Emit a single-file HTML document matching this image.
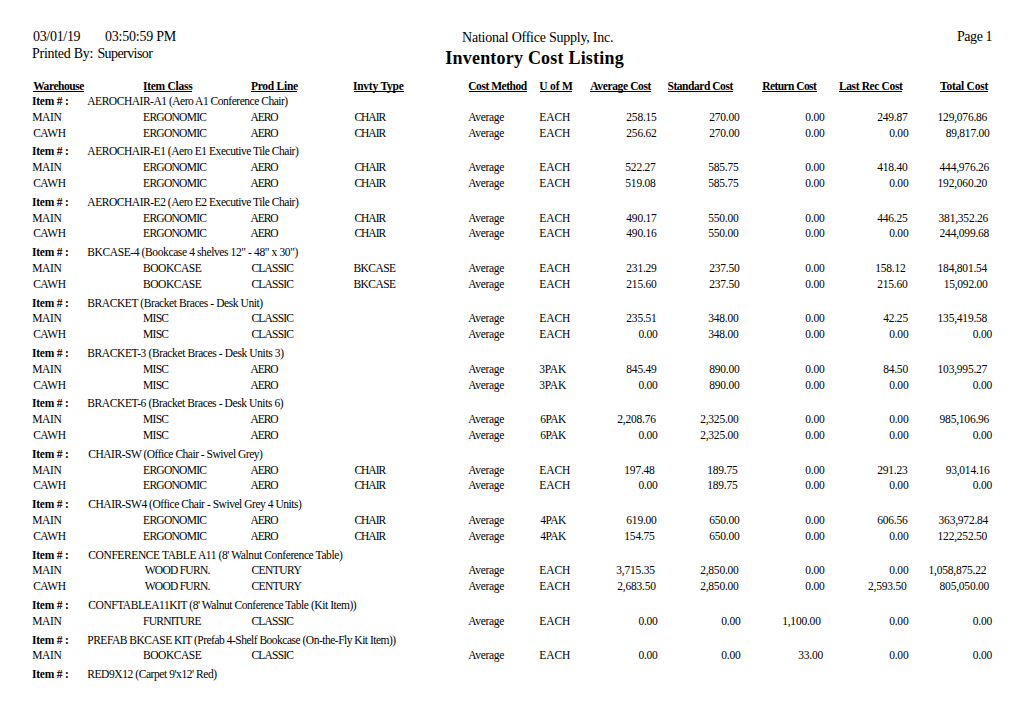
<!DOCTYPE html>
<html><head><meta charset="utf-8"><style>
html,body{margin:0;padding:0;background:#fff;}
body{width:1029px;height:704px;position:relative;overflow:hidden;font-family:"Liberation Serif",serif;color:#000;}
div{position:absolute;white-space:pre;}
.d{font-size:11.5px;line-height:11.5px;letter-spacing:-0.45px;}
.b{font-weight:bold;}
.l{height:1px;background:#000;}
</style></head><body>
<div style="left:33.00px;top:30px;font-size:14.0px;line-height:14.0px;font-weight:normal;letter-spacing:-0.314px;">03/01/19</div>
<div style="left:105.00px;top:30px;font-size:14.0px;line-height:14.0px;font-weight:normal;letter-spacing:-0.23px;">03:50:59 PM</div>
<div style="left:32.00px;top:47px;font-size:14.0px;line-height:14.0px;font-weight:normal;letter-spacing:-0.28px;">Printed By:</div>
<div style="left:97.40px;top:47px;font-size:14.0px;line-height:14.0px;font-weight:normal;letter-spacing:-0.578px;">Supervisor</div>
<div style="left:462.10px;top:31px;font-size:14.0px;line-height:14.0px;font-weight:normal;letter-spacing:-0.241px;">National Office Supply, Inc.</div>
<div style="left:445.30px;top:49px;font-size:18.0px;line-height:18.0px;font-weight:bold;letter-spacing:0.21px;">Inventory Cost Listing</div>
<div style="left:957.00px;top:30px;font-size:14.0px;line-height:14.0px;font-weight:normal;letter-spacing:-0.44px;">Page 1</div>
<div style="left:33.20px;top:81px;font-size:11.5px;line-height:11.5px;font-weight:bold;letter-spacing:-0.438px;">Warehouse</div>
<div class="l" style="left:32.90px;top:91px;width:51.30px"></div>
<div style="left:143.00px;top:81px;font-size:11.5px;line-height:11.5px;font-weight:bold;letter-spacing:-0.272px;">Item Class</div>
<div class="l" style="left:143.70px;top:91px;width:48.70px"></div>
<div style="left:251.00px;top:81px;font-size:11.5px;line-height:11.5px;font-weight:bold;letter-spacing:-0.275px;">Prod Line</div>
<div class="l" style="left:250.70px;top:91px;width:46.60px"></div>
<div style="left:352.90px;top:81px;font-size:11.5px;line-height:11.5px;font-weight:bold;letter-spacing:-0.228px;">Invty Type</div>
<div class="l" style="left:353.60px;top:91px;width:50.10px"></div>
<div style="left:468.30px;top:81px;font-size:11.5px;line-height:11.5px;font-weight:bold;letter-spacing:-0.48px;">Cost Method</div>
<div class="l" style="left:469.00px;top:91px;width:57.70px"></div>
<div style="left:539.20px;top:81px;font-size:11.5px;line-height:11.5px;font-weight:bold;letter-spacing:-0.15px;">U of M</div>
<div class="l" style="left:539.90px;top:91px;width:32.00px"></div>
<div style="left:590.30px;top:81px;font-size:11.5px;line-height:11.5px;font-weight:bold;letter-spacing:-0.377px;">Average Cost</div>
<div class="l" style="left:590.00px;top:91px;width:60.70px"></div>
<div style="left:667.50px;top:81px;font-size:11.5px;line-height:11.5px;font-weight:bold;letter-spacing:-0.458px;">Standard Cost</div>
<div class="l" style="left:668.20px;top:91px;width:64.70px"></div>
<div style="left:762.30px;top:81px;font-size:11.5px;line-height:11.5px;font-weight:bold;letter-spacing:-0.59px;">Return Cost</div>
<div class="l" style="left:762.00px;top:91px;width:54.60px"></div>
<div style="left:838.90px;top:81px;font-size:11.5px;line-height:11.5px;font-weight:bold;letter-spacing:-0.367px;">Last Rec Cost</div>
<div class="l" style="left:838.60px;top:91px;width:63.80px"></div>
<div style="left:940.00px;top:81px;font-size:11.5px;line-height:11.5px;font-weight:bold;letter-spacing:-0.239px;">Total Cost</div>
<div class="l" style="left:939.70px;top:91px;width:48.00px"></div>
<div style="left:31.90px;top:96px;font-size:11.5px;line-height:11.5px;font-weight:bold;letter-spacing:-0.207px;">Item # :</div>
<div style="left:87.30px;top:96px;font-size:11.5px;line-height:11.5px;font-weight:normal;letter-spacing:-0.479px;">AEROCHAIR-A1 (Aero A1 Conference Chair)</div>
<div style="left:32.20px;top:112px;font-size:11.5px;line-height:11.5px;font-weight:normal;letter-spacing:-0.35px;">MAIN</div>
<div style="left:143.10px;top:112px;font-size:11.5px;line-height:11.5px;font-weight:normal;letter-spacing:-0.725px;">ERGONOMIC</div>
<div style="left:250.50px;top:112px;font-size:11.5px;line-height:11.5px;font-weight:normal;letter-spacing:-1.05px;">AERO</div>
<div style="left:354.40px;top:112px;font-size:11.5px;line-height:11.5px;font-weight:normal;letter-spacing:-1.0px;">CHAIR</div>
<div style="left:468.20px;top:112px;font-size:11.5px;line-height:11.5px;font-weight:normal;letter-spacing:-0.317px;">Average</div>
<div style="left:539.20px;top:112px;font-size:11.5px;line-height:11.5px;font-weight:normal;letter-spacing:-0.05px;">EACH</div>
<div style="left:626.35px;top:112px;font-size:11.5px;line-height:11.5px;font-weight:normal;letter-spacing:-0.22px;">258.15</div>
<div style="left:709.20px;top:112px;font-size:11.5px;line-height:11.5px;font-weight:normal;letter-spacing:-0.22px;">270.00</div>
<div style="left:805.30px;top:112px;font-size:11.5px;line-height:11.5px;font-weight:normal;letter-spacing:-0.22px;">0.00</div>
<div style="left:877.15px;top:112px;font-size:11.5px;line-height:11.5px;font-weight:normal;letter-spacing:-0.22px;">249.87</div>
<div style="left:937.60px;top:112px;font-size:11.5px;line-height:11.5px;font-weight:normal;letter-spacing:-0.22px;">129,076.86</div>
<div style="left:33.20px;top:128px;font-size:11.5px;line-height:11.5px;font-weight:normal;letter-spacing:-0.483px;">CAWH</div>
<div style="left:143.10px;top:128px;font-size:11.5px;line-height:11.5px;font-weight:normal;letter-spacing:-0.725px;">ERGONOMIC</div>
<div style="left:250.50px;top:128px;font-size:11.5px;line-height:11.5px;font-weight:normal;letter-spacing:-1.05px;">AERO</div>
<div style="left:354.40px;top:128px;font-size:11.5px;line-height:11.5px;font-weight:normal;letter-spacing:-1.0px;">CHAIR</div>
<div style="left:468.20px;top:128px;font-size:11.5px;line-height:11.5px;font-weight:normal;letter-spacing:-0.317px;">Average</div>
<div style="left:539.20px;top:128px;font-size:11.5px;line-height:11.5px;font-weight:normal;letter-spacing:-0.05px;">EACH</div>
<div style="left:626.35px;top:128px;font-size:11.5px;line-height:11.5px;font-weight:normal;letter-spacing:-0.22px;">256.62</div>
<div style="left:709.20px;top:128px;font-size:11.5px;line-height:11.5px;font-weight:normal;letter-spacing:-0.22px;">270.00</div>
<div style="left:805.30px;top:128px;font-size:11.5px;line-height:11.5px;font-weight:normal;letter-spacing:-0.22px;">0.00</div>
<div style="left:889.20px;top:128px;font-size:11.5px;line-height:11.5px;font-weight:normal;letter-spacing:-0.22px;">0.00</div>
<div style="left:945.63px;top:128px;font-size:11.5px;line-height:11.5px;font-weight:normal;letter-spacing:-0.22px;">89,817.00</div>
<div style="left:31.90px;top:146px;font-size:11.5px;line-height:11.5px;font-weight:bold;letter-spacing:-0.207px;">Item # :</div>
<div style="left:87.30px;top:146px;font-size:11.5px;line-height:11.5px;font-weight:normal;letter-spacing:-0.462px;">AEROCHAIR-E1 (Aero E1 Executive Tile Chair)</div>
<div style="left:32.20px;top:162px;font-size:11.5px;line-height:11.5px;font-weight:normal;letter-spacing:-0.35px;">MAIN</div>
<div style="left:143.10px;top:162px;font-size:11.5px;line-height:11.5px;font-weight:normal;letter-spacing:-0.725px;">ERGONOMIC</div>
<div style="left:250.50px;top:162px;font-size:11.5px;line-height:11.5px;font-weight:normal;letter-spacing:-1.05px;">AERO</div>
<div style="left:354.40px;top:162px;font-size:11.5px;line-height:11.5px;font-weight:normal;letter-spacing:-1.0px;">CHAIR</div>
<div style="left:468.20px;top:162px;font-size:11.5px;line-height:11.5px;font-weight:normal;letter-spacing:-0.317px;">Average</div>
<div style="left:539.20px;top:162px;font-size:11.5px;line-height:11.5px;font-weight:normal;letter-spacing:-0.05px;">EACH</div>
<div style="left:625.35px;top:162px;font-size:11.5px;line-height:11.5px;font-weight:normal;letter-spacing:-0.22px;">522.27</div>
<div style="left:708.20px;top:162px;font-size:11.5px;line-height:11.5px;font-weight:normal;letter-spacing:-0.22px;">585.75</div>
<div style="left:805.30px;top:162px;font-size:11.5px;line-height:11.5px;font-weight:normal;letter-spacing:-0.22px;">0.00</div>
<div style="left:877.15px;top:162px;font-size:11.5px;line-height:11.5px;font-weight:normal;letter-spacing:-0.22px;">418.40</div>
<div style="left:939.60px;top:162px;font-size:11.5px;line-height:11.5px;font-weight:normal;letter-spacing:-0.22px;">444,976.26</div>
<div style="left:33.20px;top:178px;font-size:11.5px;line-height:11.5px;font-weight:normal;letter-spacing:-0.483px;">CAWH</div>
<div style="left:143.10px;top:178px;font-size:11.5px;line-height:11.5px;font-weight:normal;letter-spacing:-0.725px;">ERGONOMIC</div>
<div style="left:250.50px;top:178px;font-size:11.5px;line-height:11.5px;font-weight:normal;letter-spacing:-1.05px;">AERO</div>
<div style="left:354.40px;top:178px;font-size:11.5px;line-height:11.5px;font-weight:normal;letter-spacing:-1.0px;">CHAIR</div>
<div style="left:468.20px;top:178px;font-size:11.5px;line-height:11.5px;font-weight:normal;letter-spacing:-0.317px;">Average</div>
<div style="left:539.20px;top:178px;font-size:11.5px;line-height:11.5px;font-weight:normal;letter-spacing:-0.05px;">EACH</div>
<div style="left:625.35px;top:178px;font-size:11.5px;line-height:11.5px;font-weight:normal;letter-spacing:-0.22px;">519.08</div>
<div style="left:708.20px;top:178px;font-size:11.5px;line-height:11.5px;font-weight:normal;letter-spacing:-0.22px;">585.75</div>
<div style="left:805.30px;top:178px;font-size:11.5px;line-height:11.5px;font-weight:normal;letter-spacing:-0.22px;">0.00</div>
<div style="left:889.20px;top:178px;font-size:11.5px;line-height:11.5px;font-weight:normal;letter-spacing:-0.22px;">0.00</div>
<div style="left:937.60px;top:178px;font-size:11.5px;line-height:11.5px;font-weight:normal;letter-spacing:-0.22px;">192,060.20</div>
<div style="left:31.90px;top:197px;font-size:11.5px;line-height:11.5px;font-weight:bold;letter-spacing:-0.207px;">Item # :</div>
<div style="left:87.30px;top:197px;font-size:11.5px;line-height:11.5px;font-weight:normal;letter-spacing:-0.462px;">AEROCHAIR-E2 (Aero E2 Executive Tile Chair)</div>
<div style="left:32.20px;top:213px;font-size:11.5px;line-height:11.5px;font-weight:normal;letter-spacing:-0.35px;">MAIN</div>
<div style="left:143.10px;top:213px;font-size:11.5px;line-height:11.5px;font-weight:normal;letter-spacing:-0.725px;">ERGONOMIC</div>
<div style="left:250.50px;top:213px;font-size:11.5px;line-height:11.5px;font-weight:normal;letter-spacing:-1.05px;">AERO</div>
<div style="left:354.40px;top:213px;font-size:11.5px;line-height:11.5px;font-weight:normal;letter-spacing:-1.0px;">CHAIR</div>
<div style="left:468.20px;top:213px;font-size:11.5px;line-height:11.5px;font-weight:normal;letter-spacing:-0.317px;">Average</div>
<div style="left:539.20px;top:213px;font-size:11.5px;line-height:11.5px;font-weight:normal;letter-spacing:-0.05px;">EACH</div>
<div style="left:626.35px;top:213px;font-size:11.5px;line-height:11.5px;font-weight:normal;letter-spacing:-0.22px;">490.17</div>
<div style="left:708.20px;top:213px;font-size:11.5px;line-height:11.5px;font-weight:normal;letter-spacing:-0.22px;">550.00</div>
<div style="left:805.30px;top:213px;font-size:11.5px;line-height:11.5px;font-weight:normal;letter-spacing:-0.22px;">0.00</div>
<div style="left:877.15px;top:213px;font-size:11.5px;line-height:11.5px;font-weight:normal;letter-spacing:-0.22px;">446.25</div>
<div style="left:938.60px;top:213px;font-size:11.5px;line-height:11.5px;font-weight:normal;letter-spacing:-0.22px;">381,352.26</div>
<div style="left:33.20px;top:228px;font-size:11.5px;line-height:11.5px;font-weight:normal;letter-spacing:-0.483px;">CAWH</div>
<div style="left:143.10px;top:228px;font-size:11.5px;line-height:11.5px;font-weight:normal;letter-spacing:-0.725px;">ERGONOMIC</div>
<div style="left:250.50px;top:228px;font-size:11.5px;line-height:11.5px;font-weight:normal;letter-spacing:-1.05px;">AERO</div>
<div style="left:354.40px;top:228px;font-size:11.5px;line-height:11.5px;font-weight:normal;letter-spacing:-1.0px;">CHAIR</div>
<div style="left:468.20px;top:228px;font-size:11.5px;line-height:11.5px;font-weight:normal;letter-spacing:-0.317px;">Average</div>
<div style="left:539.20px;top:228px;font-size:11.5px;line-height:11.5px;font-weight:normal;letter-spacing:-0.05px;">EACH</div>
<div style="left:626.35px;top:228px;font-size:11.5px;line-height:11.5px;font-weight:normal;letter-spacing:-0.22px;">490.16</div>
<div style="left:708.20px;top:228px;font-size:11.5px;line-height:11.5px;font-weight:normal;letter-spacing:-0.22px;">550.00</div>
<div style="left:805.30px;top:228px;font-size:11.5px;line-height:11.5px;font-weight:normal;letter-spacing:-0.22px;">0.00</div>
<div style="left:889.20px;top:228px;font-size:11.5px;line-height:11.5px;font-weight:normal;letter-spacing:-0.22px;">0.00</div>
<div style="left:939.60px;top:228px;font-size:11.5px;line-height:11.5px;font-weight:normal;letter-spacing:-0.22px;">244,099.68</div>
<div style="left:31.90px;top:247px;font-size:11.5px;line-height:11.5px;font-weight:bold;letter-spacing:-0.207px;">Item # :</div>
<div style="left:87.30px;top:247px;font-size:11.5px;line-height:11.5px;font-weight:normal;letter-spacing:-0.389px;">BKCASE-4 (Bookcase 4 shelves 12&quot; - 48&quot; x 30&quot;)</div>
<div style="left:32.20px;top:263px;font-size:11.5px;line-height:11.5px;font-weight:normal;letter-spacing:-0.35px;">MAIN</div>
<div style="left:143.10px;top:263px;font-size:11.5px;line-height:11.5px;font-weight:normal;letter-spacing:-0.479px;">BOOKCASE</div>
<div style="left:251.50px;top:263px;font-size:11.5px;line-height:11.5px;font-weight:normal;letter-spacing:-0.817px;">CLASSIC</div>
<div style="left:353.40px;top:263px;font-size:11.5px;line-height:11.5px;font-weight:normal;letter-spacing:-0.55px;">BKCASE</div>
<div style="left:468.20px;top:263px;font-size:11.5px;line-height:11.5px;font-weight:normal;letter-spacing:-0.317px;">Average</div>
<div style="left:539.20px;top:263px;font-size:11.5px;line-height:11.5px;font-weight:normal;letter-spacing:-0.05px;">EACH</div>
<div style="left:626.35px;top:263px;font-size:11.5px;line-height:11.5px;font-weight:normal;letter-spacing:-0.22px;">231.29</div>
<div style="left:709.20px;top:263px;font-size:11.5px;line-height:11.5px;font-weight:normal;letter-spacing:-0.22px;">237.50</div>
<div style="left:805.30px;top:263px;font-size:11.5px;line-height:11.5px;font-weight:normal;letter-spacing:-0.22px;">0.00</div>
<div style="left:875.15px;top:263px;font-size:11.5px;line-height:11.5px;font-weight:normal;letter-spacing:-0.22px;">158.12</div>
<div style="left:937.60px;top:263px;font-size:11.5px;line-height:11.5px;font-weight:normal;letter-spacing:-0.22px;">184,801.54</div>
<div style="left:33.20px;top:279px;font-size:11.5px;line-height:11.5px;font-weight:normal;letter-spacing:-0.483px;">CAWH</div>
<div style="left:143.10px;top:279px;font-size:11.5px;line-height:11.5px;font-weight:normal;letter-spacing:-0.479px;">BOOKCASE</div>
<div style="left:251.50px;top:279px;font-size:11.5px;line-height:11.5px;font-weight:normal;letter-spacing:-0.817px;">CLASSIC</div>
<div style="left:353.40px;top:279px;font-size:11.5px;line-height:11.5px;font-weight:normal;letter-spacing:-0.55px;">BKCASE</div>
<div style="left:468.20px;top:279px;font-size:11.5px;line-height:11.5px;font-weight:normal;letter-spacing:-0.317px;">Average</div>
<div style="left:539.20px;top:279px;font-size:11.5px;line-height:11.5px;font-weight:normal;letter-spacing:-0.05px;">EACH</div>
<div style="left:626.35px;top:279px;font-size:11.5px;line-height:11.5px;font-weight:normal;letter-spacing:-0.22px;">215.60</div>
<div style="left:709.20px;top:279px;font-size:11.5px;line-height:11.5px;font-weight:normal;letter-spacing:-0.22px;">237.50</div>
<div style="left:805.30px;top:279px;font-size:11.5px;line-height:11.5px;font-weight:normal;letter-spacing:-0.22px;">0.00</div>
<div style="left:877.15px;top:279px;font-size:11.5px;line-height:11.5px;font-weight:normal;letter-spacing:-0.22px;">215.60</div>
<div style="left:943.63px;top:279px;font-size:11.5px;line-height:11.5px;font-weight:normal;letter-spacing:-0.22px;">15,092.00</div>
<div style="left:31.90px;top:298px;font-size:11.5px;line-height:11.5px;font-weight:bold;letter-spacing:-0.207px;">Item # :</div>
<div style="left:87.30px;top:298px;font-size:11.5px;line-height:11.5px;font-weight:normal;letter-spacing:-0.416px;">BRACKET (Bracket Braces - Desk Unit)</div>
<div style="left:32.20px;top:313px;font-size:11.5px;line-height:11.5px;font-weight:normal;letter-spacing:-0.35px;">MAIN</div>
<div style="left:143.10px;top:313px;font-size:11.5px;line-height:11.5px;font-weight:normal;letter-spacing:-0.75px;">MISC</div>
<div style="left:251.50px;top:313px;font-size:11.5px;line-height:11.5px;font-weight:normal;letter-spacing:-0.817px;">CLASSIC</div>
<div style="left:468.20px;top:313px;font-size:11.5px;line-height:11.5px;font-weight:normal;letter-spacing:-0.317px;">Average</div>
<div style="left:539.20px;top:313px;font-size:11.5px;line-height:11.5px;font-weight:normal;letter-spacing:-0.05px;">EACH</div>
<div style="left:626.35px;top:313px;font-size:11.5px;line-height:11.5px;font-weight:normal;letter-spacing:-0.22px;">235.51</div>
<div style="left:708.20px;top:313px;font-size:11.5px;line-height:11.5px;font-weight:normal;letter-spacing:-0.22px;">348.00</div>
<div style="left:805.30px;top:313px;font-size:11.5px;line-height:11.5px;font-weight:normal;letter-spacing:-0.22px;">0.00</div>
<div style="left:883.17px;top:313px;font-size:11.5px;line-height:11.5px;font-weight:normal;letter-spacing:-0.22px;">42.25</div>
<div style="left:937.60px;top:313px;font-size:11.5px;line-height:11.5px;font-weight:normal;letter-spacing:-0.22px;">135,419.58</div>
<div style="left:33.20px;top:329px;font-size:11.5px;line-height:11.5px;font-weight:normal;letter-spacing:-0.483px;">CAWH</div>
<div style="left:143.10px;top:329px;font-size:11.5px;line-height:11.5px;font-weight:normal;letter-spacing:-0.75px;">MISC</div>
<div style="left:251.50px;top:329px;font-size:11.5px;line-height:11.5px;font-weight:normal;letter-spacing:-0.817px;">CLASSIC</div>
<div style="left:468.20px;top:329px;font-size:11.5px;line-height:11.5px;font-weight:normal;letter-spacing:-0.317px;">Average</div>
<div style="left:539.20px;top:329px;font-size:11.5px;line-height:11.5px;font-weight:normal;letter-spacing:-0.05px;">EACH</div>
<div style="left:638.40px;top:329px;font-size:11.5px;line-height:11.5px;font-weight:normal;letter-spacing:-0.22px;">0.00</div>
<div style="left:708.20px;top:329px;font-size:11.5px;line-height:11.5px;font-weight:normal;letter-spacing:-0.22px;">348.00</div>
<div style="left:805.30px;top:329px;font-size:11.5px;line-height:11.5px;font-weight:normal;letter-spacing:-0.22px;">0.00</div>
<div style="left:889.20px;top:329px;font-size:11.5px;line-height:11.5px;font-weight:normal;letter-spacing:-0.22px;">0.00</div>
<div style="left:972.75px;top:329px;font-size:11.5px;line-height:11.5px;font-weight:normal;letter-spacing:-0.22px;">0.00</div>
<div style="left:31.90px;top:348px;font-size:11.5px;line-height:11.5px;font-weight:bold;letter-spacing:-0.207px;">Item # :</div>
<div style="left:87.30px;top:348px;font-size:11.5px;line-height:11.5px;font-weight:normal;letter-spacing:-0.39px;">BRACKET-3 (Bracket Braces - Desk Units 3)</div>
<div style="left:32.20px;top:364px;font-size:11.5px;line-height:11.5px;font-weight:normal;letter-spacing:-0.35px;">MAIN</div>
<div style="left:143.10px;top:364px;font-size:11.5px;line-height:11.5px;font-weight:normal;letter-spacing:-0.75px;">MISC</div>
<div style="left:250.50px;top:364px;font-size:11.5px;line-height:11.5px;font-weight:normal;letter-spacing:-1.05px;">AERO</div>
<div style="left:468.20px;top:364px;font-size:11.5px;line-height:11.5px;font-weight:normal;letter-spacing:-0.317px;">Average</div>
<div style="left:539.20px;top:364px;font-size:11.5px;line-height:11.5px;font-weight:normal;letter-spacing:-0.217px;">3PAK</div>
<div style="left:626.35px;top:364px;font-size:11.5px;line-height:11.5px;font-weight:normal;letter-spacing:-0.22px;">845.49</div>
<div style="left:709.20px;top:364px;font-size:11.5px;line-height:11.5px;font-weight:normal;letter-spacing:-0.22px;">890.00</div>
<div style="left:805.30px;top:364px;font-size:11.5px;line-height:11.5px;font-weight:normal;letter-spacing:-0.22px;">0.00</div>
<div style="left:883.17px;top:364px;font-size:11.5px;line-height:11.5px;font-weight:normal;letter-spacing:-0.22px;">84.50</div>
<div style="left:937.60px;top:364px;font-size:11.5px;line-height:11.5px;font-weight:normal;letter-spacing:-0.22px;">103,995.27</div>
<div style="left:33.20px;top:380px;font-size:11.5px;line-height:11.5px;font-weight:normal;letter-spacing:-0.483px;">CAWH</div>
<div style="left:143.10px;top:380px;font-size:11.5px;line-height:11.5px;font-weight:normal;letter-spacing:-0.75px;">MISC</div>
<div style="left:250.50px;top:380px;font-size:11.5px;line-height:11.5px;font-weight:normal;letter-spacing:-1.05px;">AERO</div>
<div style="left:468.20px;top:380px;font-size:11.5px;line-height:11.5px;font-weight:normal;letter-spacing:-0.317px;">Average</div>
<div style="left:539.20px;top:380px;font-size:11.5px;line-height:11.5px;font-weight:normal;letter-spacing:-0.217px;">3PAK</div>
<div style="left:638.40px;top:380px;font-size:11.5px;line-height:11.5px;font-weight:normal;letter-spacing:-0.22px;">0.00</div>
<div style="left:709.20px;top:380px;font-size:11.5px;line-height:11.5px;font-weight:normal;letter-spacing:-0.22px;">890.00</div>
<div style="left:805.30px;top:380px;font-size:11.5px;line-height:11.5px;font-weight:normal;letter-spacing:-0.22px;">0.00</div>
<div style="left:889.20px;top:380px;font-size:11.5px;line-height:11.5px;font-weight:normal;letter-spacing:-0.22px;">0.00</div>
<div style="left:972.75px;top:380px;font-size:11.5px;line-height:11.5px;font-weight:normal;letter-spacing:-0.22px;">0.00</div>
<div style="left:31.90px;top:398px;font-size:11.5px;line-height:11.5px;font-weight:bold;letter-spacing:-0.207px;">Item # :</div>
<div style="left:87.30px;top:398px;font-size:11.5px;line-height:11.5px;font-weight:normal;letter-spacing:-0.398px;">BRACKET-6 (Bracket Braces - Desk Units 6)</div>
<div style="left:32.20px;top:414px;font-size:11.5px;line-height:11.5px;font-weight:normal;letter-spacing:-0.35px;">MAIN</div>
<div style="left:143.10px;top:414px;font-size:11.5px;line-height:11.5px;font-weight:normal;letter-spacing:-0.75px;">MISC</div>
<div style="left:250.50px;top:414px;font-size:11.5px;line-height:11.5px;font-weight:normal;letter-spacing:-1.05px;">AERO</div>
<div style="left:468.20px;top:414px;font-size:11.5px;line-height:11.5px;font-weight:normal;letter-spacing:-0.317px;">Average</div>
<div style="left:540.20px;top:414px;font-size:11.5px;line-height:11.5px;font-weight:normal;letter-spacing:-0.55px;">6PAK</div>
<div style="left:617.30px;top:414px;font-size:11.5px;line-height:11.5px;font-weight:normal;letter-spacing:-0.22px;">2,208.76</div>
<div style="left:700.15px;top:414px;font-size:11.5px;line-height:11.5px;font-weight:normal;letter-spacing:-0.22px;">2,325.00</div>
<div style="left:805.30px;top:414px;font-size:11.5px;line-height:11.5px;font-weight:normal;letter-spacing:-0.22px;">0.00</div>
<div style="left:889.20px;top:414px;font-size:11.5px;line-height:11.5px;font-weight:normal;letter-spacing:-0.22px;">0.00</div>
<div style="left:939.60px;top:414px;font-size:11.5px;line-height:11.5px;font-weight:normal;letter-spacing:-0.22px;">985,106.96</div>
<div style="left:33.20px;top:430px;font-size:11.5px;line-height:11.5px;font-weight:normal;letter-spacing:-0.483px;">CAWH</div>
<div style="left:143.10px;top:430px;font-size:11.5px;line-height:11.5px;font-weight:normal;letter-spacing:-0.75px;">MISC</div>
<div style="left:250.50px;top:430px;font-size:11.5px;line-height:11.5px;font-weight:normal;letter-spacing:-1.05px;">AERO</div>
<div style="left:468.20px;top:430px;font-size:11.5px;line-height:11.5px;font-weight:normal;letter-spacing:-0.317px;">Average</div>
<div style="left:540.20px;top:430px;font-size:11.5px;line-height:11.5px;font-weight:normal;letter-spacing:-0.55px;">6PAK</div>
<div style="left:638.40px;top:430px;font-size:11.5px;line-height:11.5px;font-weight:normal;letter-spacing:-0.22px;">0.00</div>
<div style="left:700.15px;top:430px;font-size:11.5px;line-height:11.5px;font-weight:normal;letter-spacing:-0.22px;">2,325.00</div>
<div style="left:805.30px;top:430px;font-size:11.5px;line-height:11.5px;font-weight:normal;letter-spacing:-0.22px;">0.00</div>
<div style="left:889.20px;top:430px;font-size:11.5px;line-height:11.5px;font-weight:normal;letter-spacing:-0.22px;">0.00</div>
<div style="left:972.75px;top:430px;font-size:11.5px;line-height:11.5px;font-weight:normal;letter-spacing:-0.22px;">0.00</div>
<div style="left:31.90px;top:449px;font-size:11.5px;line-height:11.5px;font-weight:bold;letter-spacing:-0.207px;">Item # :</div>
<div style="left:88.30px;top:449px;font-size:11.5px;line-height:11.5px;font-weight:normal;letter-spacing:-0.489px;">CHAIR-SW (Office Chair - Swivel Grey)</div>
<div style="left:32.20px;top:465px;font-size:11.5px;line-height:11.5px;font-weight:normal;letter-spacing:-0.35px;">MAIN</div>
<div style="left:143.10px;top:465px;font-size:11.5px;line-height:11.5px;font-weight:normal;letter-spacing:-0.725px;">ERGONOMIC</div>
<div style="left:250.50px;top:465px;font-size:11.5px;line-height:11.5px;font-weight:normal;letter-spacing:-1.05px;">AERO</div>
<div style="left:354.40px;top:465px;font-size:11.5px;line-height:11.5px;font-weight:normal;letter-spacing:-1.0px;">CHAIR</div>
<div style="left:468.20px;top:465px;font-size:11.5px;line-height:11.5px;font-weight:normal;letter-spacing:-0.317px;">Average</div>
<div style="left:539.20px;top:465px;font-size:11.5px;line-height:11.5px;font-weight:normal;letter-spacing:-0.05px;">EACH</div>
<div style="left:624.35px;top:465px;font-size:11.5px;line-height:11.5px;font-weight:normal;letter-spacing:-0.22px;">197.48</div>
<div style="left:707.20px;top:465px;font-size:11.5px;line-height:11.5px;font-weight:normal;letter-spacing:-0.22px;">189.75</div>
<div style="left:805.30px;top:465px;font-size:11.5px;line-height:11.5px;font-weight:normal;letter-spacing:-0.22px;">0.00</div>
<div style="left:877.15px;top:465px;font-size:11.5px;line-height:11.5px;font-weight:normal;letter-spacing:-0.22px;">291.23</div>
<div style="left:945.63px;top:465px;font-size:11.5px;line-height:11.5px;font-weight:normal;letter-spacing:-0.22px;">93,014.16</div>
<div style="left:33.20px;top:480px;font-size:11.5px;line-height:11.5px;font-weight:normal;letter-spacing:-0.483px;">CAWH</div>
<div style="left:143.10px;top:480px;font-size:11.5px;line-height:11.5px;font-weight:normal;letter-spacing:-0.725px;">ERGONOMIC</div>
<div style="left:250.50px;top:480px;font-size:11.5px;line-height:11.5px;font-weight:normal;letter-spacing:-1.05px;">AERO</div>
<div style="left:354.40px;top:480px;font-size:11.5px;line-height:11.5px;font-weight:normal;letter-spacing:-1.0px;">CHAIR</div>
<div style="left:468.20px;top:480px;font-size:11.5px;line-height:11.5px;font-weight:normal;letter-spacing:-0.317px;">Average</div>
<div style="left:539.20px;top:480px;font-size:11.5px;line-height:11.5px;font-weight:normal;letter-spacing:-0.05px;">EACH</div>
<div style="left:638.40px;top:480px;font-size:11.5px;line-height:11.5px;font-weight:normal;letter-spacing:-0.22px;">0.00</div>
<div style="left:707.20px;top:480px;font-size:11.5px;line-height:11.5px;font-weight:normal;letter-spacing:-0.22px;">189.75</div>
<div style="left:805.30px;top:480px;font-size:11.5px;line-height:11.5px;font-weight:normal;letter-spacing:-0.22px;">0.00</div>
<div style="left:889.20px;top:480px;font-size:11.5px;line-height:11.5px;font-weight:normal;letter-spacing:-0.22px;">0.00</div>
<div style="left:972.75px;top:480px;font-size:11.5px;line-height:11.5px;font-weight:normal;letter-spacing:-0.22px;">0.00</div>
<div style="left:31.90px;top:499px;font-size:11.5px;line-height:11.5px;font-weight:bold;letter-spacing:-0.207px;">Item # :</div>
<div style="left:88.30px;top:499px;font-size:11.5px;line-height:11.5px;font-weight:normal;letter-spacing:-0.466px;">CHAIR-SW4 (Office Chair - Swivel Grey 4 Units)</div>
<div style="left:32.20px;top:515px;font-size:11.5px;line-height:11.5px;font-weight:normal;letter-spacing:-0.35px;">MAIN</div>
<div style="left:143.10px;top:515px;font-size:11.5px;line-height:11.5px;font-weight:normal;letter-spacing:-0.725px;">ERGONOMIC</div>
<div style="left:250.50px;top:515px;font-size:11.5px;line-height:11.5px;font-weight:normal;letter-spacing:-1.05px;">AERO</div>
<div style="left:354.40px;top:515px;font-size:11.5px;line-height:11.5px;font-weight:normal;letter-spacing:-1.0px;">CHAIR</div>
<div style="left:468.20px;top:515px;font-size:11.5px;line-height:11.5px;font-weight:normal;letter-spacing:-0.317px;">Average</div>
<div style="left:540.20px;top:515px;font-size:11.5px;line-height:11.5px;font-weight:normal;letter-spacing:-0.55px;">4PAK</div>
<div style="left:626.35px;top:515px;font-size:11.5px;line-height:11.5px;font-weight:normal;letter-spacing:-0.22px;">619.00</div>
<div style="left:709.20px;top:515px;font-size:11.5px;line-height:11.5px;font-weight:normal;letter-spacing:-0.22px;">650.00</div>
<div style="left:805.30px;top:515px;font-size:11.5px;line-height:11.5px;font-weight:normal;letter-spacing:-0.22px;">0.00</div>
<div style="left:877.15px;top:515px;font-size:11.5px;line-height:11.5px;font-weight:normal;letter-spacing:-0.22px;">606.56</div>
<div style="left:938.60px;top:515px;font-size:11.5px;line-height:11.5px;font-weight:normal;letter-spacing:-0.22px;">363,972.84</div>
<div style="left:33.20px;top:531px;font-size:11.5px;line-height:11.5px;font-weight:normal;letter-spacing:-0.483px;">CAWH</div>
<div style="left:143.10px;top:531px;font-size:11.5px;line-height:11.5px;font-weight:normal;letter-spacing:-0.725px;">ERGONOMIC</div>
<div style="left:250.50px;top:531px;font-size:11.5px;line-height:11.5px;font-weight:normal;letter-spacing:-1.05px;">AERO</div>
<div style="left:354.40px;top:531px;font-size:11.5px;line-height:11.5px;font-weight:normal;letter-spacing:-1.0px;">CHAIR</div>
<div style="left:468.20px;top:531px;font-size:11.5px;line-height:11.5px;font-weight:normal;letter-spacing:-0.317px;">Average</div>
<div style="left:540.20px;top:531px;font-size:11.5px;line-height:11.5px;font-weight:normal;letter-spacing:-0.55px;">4PAK</div>
<div style="left:624.35px;top:531px;font-size:11.5px;line-height:11.5px;font-weight:normal;letter-spacing:-0.22px;">154.75</div>
<div style="left:709.20px;top:531px;font-size:11.5px;line-height:11.5px;font-weight:normal;letter-spacing:-0.22px;">650.00</div>
<div style="left:805.30px;top:531px;font-size:11.5px;line-height:11.5px;font-weight:normal;letter-spacing:-0.22px;">0.00</div>
<div style="left:889.20px;top:531px;font-size:11.5px;line-height:11.5px;font-weight:normal;letter-spacing:-0.22px;">0.00</div>
<div style="left:937.60px;top:531px;font-size:11.5px;line-height:11.5px;font-weight:normal;letter-spacing:-0.22px;">122,252.50</div>
<div style="left:31.90px;top:550px;font-size:11.5px;line-height:11.5px;font-weight:bold;letter-spacing:-0.207px;">Item # :</div>
<div style="left:88.30px;top:550px;font-size:11.5px;line-height:11.5px;font-weight:normal;letter-spacing:-0.4px;">CONFERENCE TABLE A11 (8&#x27; Walnut Conference Table)</div>
<div style="left:32.20px;top:565px;font-size:11.5px;line-height:11.5px;font-weight:normal;letter-spacing:-0.35px;">MAIN</div>
<div style="left:144.70px;top:565px;font-size:11.5px;line-height:11.5px;font-weight:normal;letter-spacing:-0.728px;">WOOD FURN.</div>
<div style="left:251.50px;top:565px;font-size:11.5px;line-height:11.5px;font-weight:normal;letter-spacing:-0.55px;">CENTURY</div>
<div style="left:468.20px;top:565px;font-size:11.5px;line-height:11.5px;font-weight:normal;letter-spacing:-0.317px;">Average</div>
<div style="left:539.20px;top:565px;font-size:11.5px;line-height:11.5px;font-weight:normal;letter-spacing:-0.05px;">EACH</div>
<div style="left:616.30px;top:565px;font-size:11.5px;line-height:11.5px;font-weight:normal;letter-spacing:-0.22px;">3,715.35</div>
<div style="left:700.15px;top:565px;font-size:11.5px;line-height:11.5px;font-weight:normal;letter-spacing:-0.22px;">2,850.00</div>
<div style="left:805.30px;top:565px;font-size:11.5px;line-height:11.5px;font-weight:normal;letter-spacing:-0.22px;">0.00</div>
<div style="left:889.20px;top:565px;font-size:11.5px;line-height:11.5px;font-weight:normal;letter-spacing:-0.22px;">0.00</div>
<div style="left:928.56px;top:565px;font-size:11.5px;line-height:11.5px;font-weight:normal;letter-spacing:-0.22px;">1,058,875.22</div>
<div style="left:33.20px;top:581px;font-size:11.5px;line-height:11.5px;font-weight:normal;letter-spacing:-0.483px;">CAWH</div>
<div style="left:144.70px;top:581px;font-size:11.5px;line-height:11.5px;font-weight:normal;letter-spacing:-0.728px;">WOOD FURN.</div>
<div style="left:251.50px;top:581px;font-size:11.5px;line-height:11.5px;font-weight:normal;letter-spacing:-0.55px;">CENTURY</div>
<div style="left:468.20px;top:581px;font-size:11.5px;line-height:11.5px;font-weight:normal;letter-spacing:-0.317px;">Average</div>
<div style="left:539.20px;top:581px;font-size:11.5px;line-height:11.5px;font-weight:normal;letter-spacing:-0.05px;">EACH</div>
<div style="left:617.30px;top:581px;font-size:11.5px;line-height:11.5px;font-weight:normal;letter-spacing:-0.22px;">2,683.50</div>
<div style="left:700.15px;top:581px;font-size:11.5px;line-height:11.5px;font-weight:normal;letter-spacing:-0.22px;">2,850.00</div>
<div style="left:805.30px;top:581px;font-size:11.5px;line-height:11.5px;font-weight:normal;letter-spacing:-0.22px;">0.00</div>
<div style="left:868.10px;top:581px;font-size:11.5px;line-height:11.5px;font-weight:normal;letter-spacing:-0.22px;">2,593.50</div>
<div style="left:939.60px;top:581px;font-size:11.5px;line-height:11.5px;font-weight:normal;letter-spacing:-0.22px;">805,050.00</div>
<div style="left:31.90px;top:600px;font-size:11.5px;line-height:11.5px;font-weight:bold;letter-spacing:-0.207px;">Item # :</div>
<div style="left:88.30px;top:600px;font-size:11.5px;line-height:11.5px;font-weight:normal;letter-spacing:-0.441px;">CONFTABLEA11KIT (8&#x27; Walnut Conference Table (Kit Item))</div>
<div style="left:32.20px;top:616px;font-size:11.5px;line-height:11.5px;font-weight:normal;letter-spacing:-0.35px;">MAIN</div>
<div style="left:143.10px;top:616px;font-size:11.5px;line-height:11.5px;font-weight:normal;letter-spacing:-0.762px;">FURNITURE</div>
<div style="left:251.50px;top:616px;font-size:11.5px;line-height:11.5px;font-weight:normal;letter-spacing:-0.817px;">CLASSIC</div>
<div style="left:468.20px;top:616px;font-size:11.5px;line-height:11.5px;font-weight:normal;letter-spacing:-0.317px;">Average</div>
<div style="left:539.20px;top:616px;font-size:11.5px;line-height:11.5px;font-weight:normal;letter-spacing:-0.05px;">EACH</div>
<div style="left:638.40px;top:616px;font-size:11.5px;line-height:11.5px;font-weight:normal;letter-spacing:-0.22px;">0.00</div>
<div style="left:721.25px;top:616px;font-size:11.5px;line-height:11.5px;font-weight:normal;letter-spacing:-0.22px;">0.00</div>
<div style="left:782.20px;top:616px;font-size:11.5px;line-height:11.5px;font-weight:normal;letter-spacing:-0.22px;">1,100.00</div>
<div style="left:889.20px;top:616px;font-size:11.5px;line-height:11.5px;font-weight:normal;letter-spacing:-0.22px;">0.00</div>
<div style="left:972.75px;top:616px;font-size:11.5px;line-height:11.5px;font-weight:normal;letter-spacing:-0.22px;">0.00</div>
<div style="left:31.90px;top:635px;font-size:11.5px;line-height:11.5px;font-weight:bold;letter-spacing:-0.207px;">Item # :</div>
<div style="left:87.30px;top:635px;font-size:11.5px;line-height:11.5px;font-weight:normal;letter-spacing:-0.497px;">PREFAB BKCASE KIT (Prefab 4-Shelf Bookcase (On-the-Fly Kit Item))</div>
<div style="left:32.20px;top:650px;font-size:11.5px;line-height:11.5px;font-weight:normal;letter-spacing:-0.35px;">MAIN</div>
<div style="left:143.10px;top:650px;font-size:11.5px;line-height:11.5px;font-weight:normal;letter-spacing:-0.479px;">BOOKCASE</div>
<div style="left:251.50px;top:650px;font-size:11.5px;line-height:11.5px;font-weight:normal;letter-spacing:-0.817px;">CLASSIC</div>
<div style="left:468.20px;top:650px;font-size:11.5px;line-height:11.5px;font-weight:normal;letter-spacing:-0.317px;">Average</div>
<div style="left:539.20px;top:650px;font-size:11.5px;line-height:11.5px;font-weight:normal;letter-spacing:-0.05px;">EACH</div>
<div style="left:638.40px;top:650px;font-size:11.5px;line-height:11.5px;font-weight:normal;letter-spacing:-0.22px;">0.00</div>
<div style="left:721.25px;top:650px;font-size:11.5px;line-height:11.5px;font-weight:normal;letter-spacing:-0.22px;">0.00</div>
<div style="left:798.27px;top:650px;font-size:11.5px;line-height:11.5px;font-weight:normal;letter-spacing:-0.22px;">33.00</div>
<div style="left:889.20px;top:650px;font-size:11.5px;line-height:11.5px;font-weight:normal;letter-spacing:-0.22px;">0.00</div>
<div style="left:972.75px;top:650px;font-size:11.5px;line-height:11.5px;font-weight:normal;letter-spacing:-0.22px;">0.00</div>
<div style="left:31.90px;top:669px;font-size:11.5px;line-height:11.5px;font-weight:bold;letter-spacing:-0.207px;">Item # :</div>
<div style="left:87.30px;top:669px;font-size:11.5px;line-height:11.5px;font-weight:normal;letter-spacing:-0.435px;">RED9X12 (Carpet 9&#x27;x12&#x27; Red)</div>
</body></html>
